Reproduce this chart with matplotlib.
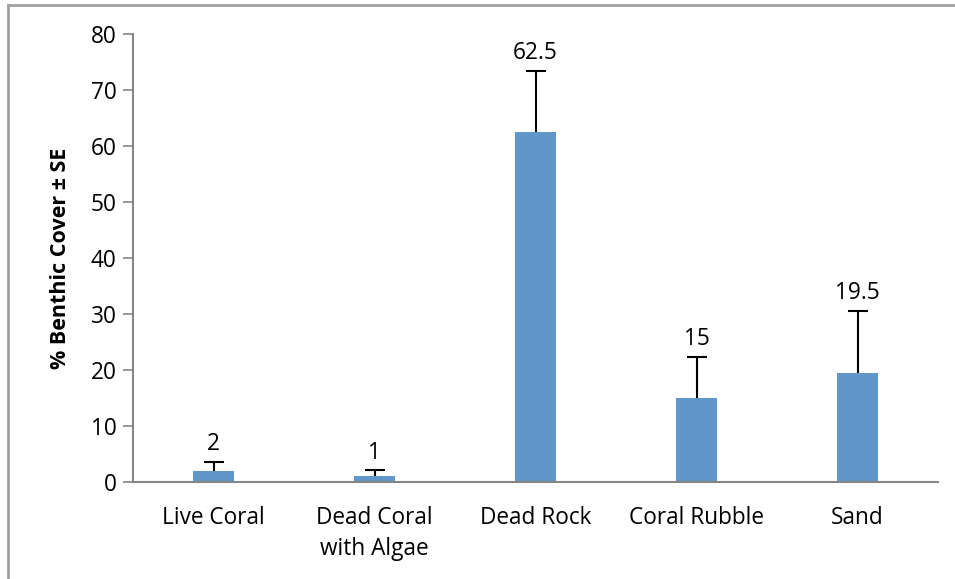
import matplotlib
matplotlib.use("Agg")
import matplotlib.pyplot as plt
from matplotlib.lines import Line2D

categories = ["Live Coral", "Dead Coral\nwith Algae", "Dead Rock", "Coral Rubble", "Sand"]
values = [2, 1, 62.5, 15, 19.5]
errors = [1.6, 1.1, 10.9, 7.4, 11.1]
value_labels = ["2", "1", "62.5", "15", "19.5"]
yticks = [0, 10, 20, 30, 40, 50, 60, 70, 80]

plt.rcParams['font.family'] = ['Open Sans', 'DejaVu Sans']

fig = plt.figure(figsize=(9.55, 5.79), dpi=100)
ax = fig.add_axes([133/955, 97/579, 805/955, 448/579])

x = list(range(len(categories)))
bar_color = "#6096C9"
ax.bar(x, values, width=0.25, color=bar_color, zorder=2)
eb = ax.errorbar(x, values, yerr=[[0]*len(errors), errors], fmt='none', ecolor='black',
                 elinewidth=1.5, capsize=7, capthick=1.5, zorder=3)
# hide lower caps (only upper error shown)
caps = eb[1]
if len(caps) == 2:
    caps[0].set_visible(False)

fs = 16.3
for xi, v, e, lab in zip(x, values, errors, value_labels):
    ax.annotate(lab, (xi, v + e), xytext=(0, 4), textcoords='offset points',
                ha='center', va='bottom', fontsize=fs)

ax.set_xlim(-0.5, len(categories) - 0.5)
ax.set_ylim(0, 80)
ax.set_yticks(yticks)
ax.set_xticks(x)
ax.set_xticklabels(categories, fontsize=fs, linespacing=1.4)
ax.tick_params(axis='y', labelsize=fs, length=7, width=1.2, color='#868686', direction='out', pad=5)
ax.tick_params(axis='x', length=0, pad=17)
for s in ['top', 'right']:
    ax.spines[s].set_visible(False)
for s in ['left', 'bottom']:
    ax.spines[s].set_color('#868686')
    ax.spines[s].set_linewidth(1.5)
ax.set_ylabel("% Benthic Cover ± SE", fontsize=fs - 0.8, fontweight='bold', labelpad=14)

# outer chart border (top and left visible)
fig.add_artist(Line2D([8/955, 1], [1 - 5/579, 1 - 5/579], transform=fig.transFigure, color='#A0A0A0', lw=2))
fig.add_artist(Line2D([8/955, 8/955], [0, 1 - 5/579], transform=fig.transFigure, color='#A0A0A0', lw=2))

fig.savefig("out.png", dpi=100)
